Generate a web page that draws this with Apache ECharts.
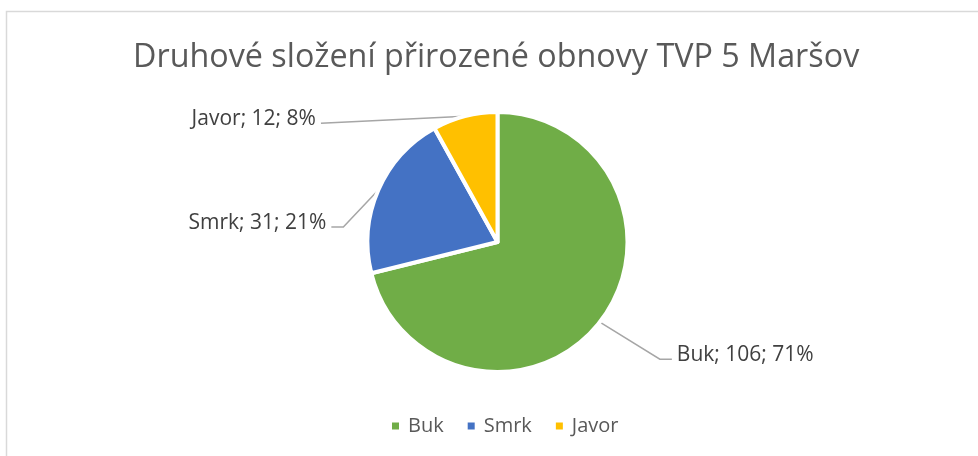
<!DOCTYPE html>
<html>
<head>
<meta charset="utf-8">
<script src="https://cdn.jsdelivr.net/npm/echarts@6/dist/echarts.min.js"></script>
<style>
html,body{margin:0;padding:0;background:#fff;}
#c{width:978px;height:456px;}
</style>
</head>
<body>
<div id="c"></div>
<script>
const titleText = 'Druhové složení přirozené obnovy TVP 5 Maršov';
const categories = ['Buk', 'Smrk', 'Javor'];
const values = [106, 31, 12];
const percents = [71, 21, 8];
const colors = ['#70AD47', '#4472C4', '#FFC000'];

// label line geometry offsets (style only)
const lineStyles = [
  { mid: [60, 37], end: [12, 0], side: 'left' },
  { mid: [-35, 37], end: [-12, 0], side: 'right' },
  { mid: null, end: [-144, 7], side: 'right' }
];

const chart = echarts.init(document.getElementById('c'), null, { renderer: 'canvas' });
const FONT = '"Open Sans", "Noto Sans", sans-serif';

chart.setOption({
  animation: false,
  backgroundColor: '#ffffff',
  graphic: [{
    type: 'rect',
    shape: { x: 6.5, y: 11.5, width: 1100, height: 600 },
    style: { fill: 'none', stroke: '#D9D9D9', lineWidth: 1.5 },
    silent: true, z: -1
  }],
  title: {
    text: titleText,
    left: 128,
    top: 37,
    textStyle: { fontFamily: FONT, fontSize: 32.3, fontWeight: 'normal', color: '#595959' }
  },
  legend: {
    data: categories,
    bottom: 15,
    left: 385,
    icon: 'rect',
    itemWidth: 9,
    itemHeight: 9,
    itemGap: 22,
    textStyle: { fontFamily: FONT, fontSize: 20, color: '#595959', padding: [0, 0, 0, 3] }
  },
  series: [{
    type: 'pie',
    center: [497.5, 242],
    radius: 130,
    startAngle: 90,
    clockwise: true,
    itemStyle: { borderColor: '#ffffff', borderWidth: 4 },
    label: {
      show: true,
      position: 'outside',
      fontFamily: FONT,
      fontSize: 21,
      color: '#404040',
      formatter: function (p) { return p.name + '; ' + p.value + '; ' + percents[p.dataIndex] + '%'; }
    },
    labelLine: { show: true, length: 20, length2: 10, lineStyle: { color: '#A6A6A6', width: 1.5 } },
    labelLayout: function (p) {
      const s = lineStyles[p.dataIndex];
      const start = p.labelLinePoints[0];
      const pts = [[start[0], start[1]]];
      let cur = pts[0];
      if (s.mid) { cur = [cur[0] + s.mid[0], cur[1] + s.mid[1]]; pts.push(cur); }
      cur = [cur[0] + s.end[0], cur[1] + s.end[1]];
      pts.push(cur);
      const gap = 5;
      return {
        x: s.side === 'left' ? cur[0] + gap : cur[0] - gap,
        y: cur[1] - 4,
        align: s.side,
        verticalAlign: 'middle',
        labelLinePoints: pts
      };
    },
    data: categories.map(function (c, i) {
      return { name: c, value: values[i], itemStyle: { color: colors[i] } };
    })
  }]
});
</script>
</body>
</html>
